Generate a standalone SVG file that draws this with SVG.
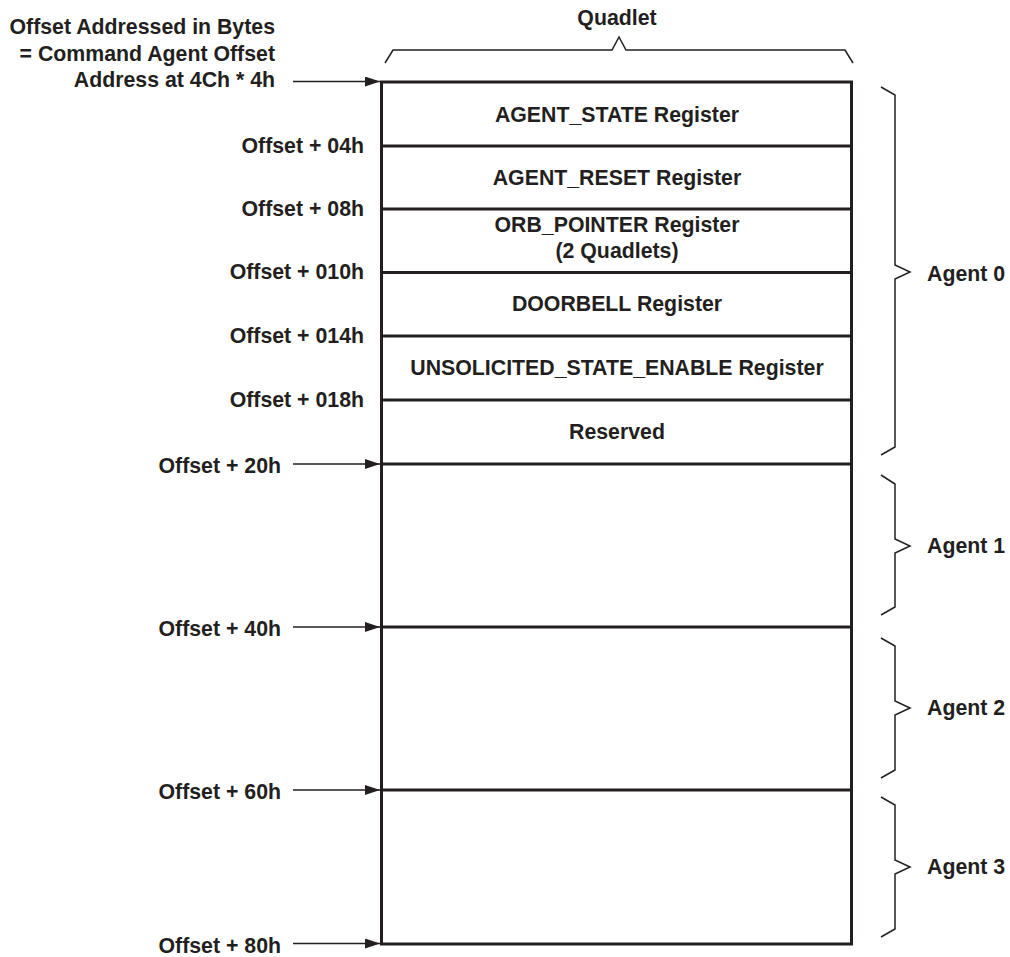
<svg xmlns="http://www.w3.org/2000/svg" width="1010" height="957" viewBox="0 0 1010 957">
<style>
text{font-family:"Liberation Sans",Arial,sans-serif;font-weight:bold;font-size:21.3px;fill:#231f20}
.c{text-anchor:middle}
.r{text-anchor:end}
.box{fill:#fff;stroke:#231f20;stroke-width:3}
.div{stroke:#231f20;stroke-width:3}
.br{fill:none;stroke:#231f20;stroke-width:1.5}
.ar{stroke:#231f20;stroke-width:1.3;marker-end:url(#ah)}
</style>
<defs>
<marker id="ah" viewBox="0 0 15 10" refX="15" refY="5" markerWidth="15" markerHeight="10" markerUnits="userSpaceOnUse" orient="auto">
<path d="M0,0 L15,5 L0,10 Z" fill="#231f20"/>
</marker>
</defs>
<rect width="1010" height="957" fill="#fff"/>
<g id="quadlet">
<path class="br" d="M385,63 L393,50 L612,50 L619,37 L626,50 L845,50 L853,63"/>
<text class="c" x="617" y="25">Quadlet</text>
</g>
<g id="memory-map">
<rect class="box" x="381.5" y="82" width="470" height="862"/>
</g>
<g id="agent_state"><text class="c" x="617" y="122">AGENT_STATE Register</text></g>
<g id="agent_reset"><line class="div" x1="381.5" y1="146" x2="851.5" y2="146"/><text class="c" x="617" y="185">AGENT_RESET Register</text></g>
<g id="orb_pointer"><line class="div" x1="381.5" y1="209" x2="851.5" y2="209"/><text class="c" x="617" y="232">ORB_POINTER Register</text><text class="c" x="617" y="258">(2 Quadlets)</text></g>
<g id="doorbell"><line class="div" x1="381.5" y1="272.5" x2="851.5" y2="272.5"/><text class="c" x="617" y="311">DOORBELL Register</text></g>
<g id="unsolicited"><line class="div" x1="381.5" y1="336" x2="851.5" y2="336"/><text class="c" x="617" y="375">UNSOLICITED_STATE_ENABLE Register</text></g>
<g id="reserved"><line class="div" x1="381.5" y1="400" x2="851.5" y2="400"/><text class="c" x="617" y="439">Reserved</text></g>
<g id="agent1-area"><line class="div" x1="381.5" y1="464" x2="851.5" y2="464"/></g>
<g id="agent2-area"><line class="div" x1="381.5" y1="627" x2="851.5" y2="627"/></g>
<g id="agent3-area"><line class="div" x1="381.5" y1="790" x2="851.5" y2="790"/></g>
<g id="offset-labels">
<text class="r" x="275" y="34">Offset Addressed in Bytes</text>
<text class="r" x="275" y="61">= Command Agent Offset</text>
<text class="r" x="275" y="87">Address at 4Ch * 4h</text>
<text class="r" x="364" y="153">Offset + 04h</text>
<text class="r" x="364" y="216">Offset + 08h</text>
<text class="r" x="364" y="279">Offset + 010h</text>
<text class="r" x="364" y="343">Offset + 014h</text>
<text class="r" x="364" y="407">Offset + 018h</text>
<text class="r" x="281" y="473">Offset + 20h</text>
<text class="r" x="281" y="636">Offset + 40h</text>
<text class="r" x="281" y="799">Offset + 60h</text>
<text class="r" x="281" y="953">Offset + 80h</text>
</g>
<g id="connectors">
<line class="ar" x1="293" y1="81.5" x2="380" y2="81.5"/>
<line class="ar" x1="293" y1="464" x2="380" y2="464"/>
<line class="ar" x1="293" y1="627" x2="380" y2="627"/>
<line class="ar" x1="293" y1="790" x2="380" y2="790"/>
<line class="ar" x1="293" y1="943.5" x2="380" y2="943.5"/>
</g>
<g id="agent0">
<path class="br" d="M881,87 L895,95 L895,265 L910,272 L895,279 L895,447 L881,455"/>
<text x="927" y="281">Agent 0</text>
</g>
<g id="agent1">
<path class="br" d="M881,475 L895,484 L895,539 L910,546 L895,553 L895,607 L881,615"/>
<text x="927" y="553">Agent 1</text>
</g>
<g id="agent2">
<path class="br" d="M881,638 L895,646 L895,701 L910,708 L895,715 L895,770 L881,778"/>
<text x="927" y="715">Agent 2</text>
</g>
<g id="agent3">
<path class="br" d="M881,797 L895,805 L895,860 L910,867 L895,874 L895,929 L881,937"/>
<text x="927" y="874">Agent 3</text>
</g>
</svg>
